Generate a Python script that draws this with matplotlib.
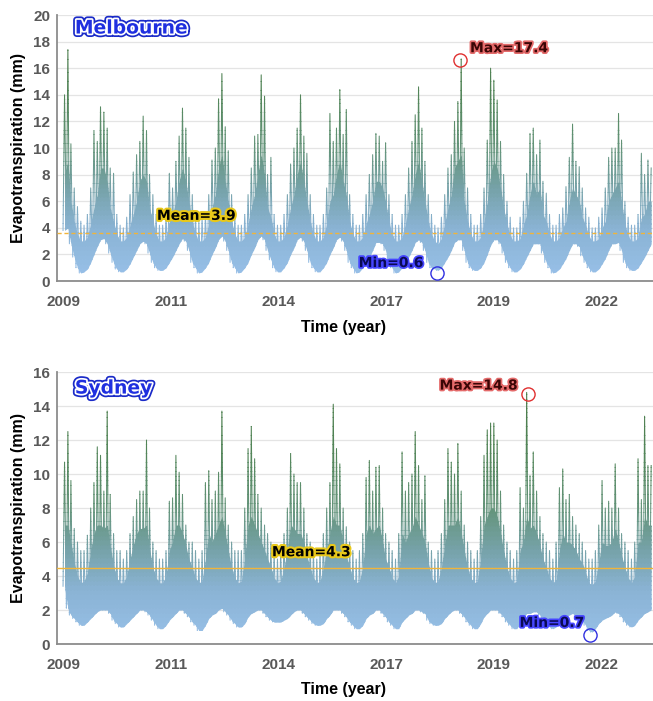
import numpy as np
import matplotlib
matplotlib.use('Agg')
import matplotlib.pyplot as plt
import matplotlib.dates as mdates
import matplotlib.patheffects as pe
from matplotlib.colors import LinearSegmentedColormap
from matplotlib.patches import Rectangle

# monthly envelopes (2009-01 .. 2023-12), one row per year
# high = tallest spike, body = top of the solid band, low = bottom of the band
mel_high = [
    [14.0, 17.4, 10.3, 7.0, 5.6, 4.5, 4.2, 5.0, 7.0, 11.3, 10.5, 13.1],
    [12.7, 11.5, 8.5, 8.1, 5.0, 4.2, 4.0, 4.8, 6.5, 8.2, 9.5, 10.5],
    [12.4, 11.3, 8.0, 6.5, 5.0, 4.2, 4.2, 5.0, 8.1, 7.0, 9.0, 10.9],
    [13.0, 11.5, 9.3, 6.5, 5.0, 4.5, 4.8, 5.0, 6.5, 9.1, 10.0, 13.7],
    [15.6, 11.6, 9.8, 6.5, 5.0, 4.2, 4.2, 5.0, 6.5, 8.5, 10.9, 11.0],
    [15.5, 13.9, 8.0, 9.3, 5.0, 4.2, 4.2, 5.0, 6.5, 8.8, 10.0, 11.5],
    [14.0, 10.9, 9.6, 6.5, 5.0, 4.2, 4.2, 5.0, 7.0, 12.6, 10.5, 11.5],
    [14.4, 11.0, 12.9, 6.5, 5.0, 4.2, 4.2, 5.0, 6.5, 8.0, 9.5, 11.1],
    [10.9, 9.0, 10.4, 6.5, 5.0, 4.2, 4.2, 5.0, 6.5, 8.5, 10.5, 12.5],
    [14.6, 11.5, 9.0, 6.5, 5.0, 4.2, 4.0, 4.8, 6.5, 8.5, 9.5, 12.0],
    [13.5, 16.7, 10.0, 7.0, 5.0, 4.2, 4.2, 5.0, 7.0, 10.6, 16.0, 15.1],
    [13.6, 10.5, 8.0, 6.0, 4.8, 4.0, 4.0, 4.8, 6.0, 8.1, 11.1, 11.5],
    [9.5, 10.6, 7.5, 6.6, 5.0, 4.2, 4.2, 5.0, 5.5, 7.1, 9.3, 11.8],
    [9.0, 8.6, 7.0, 5.5, 4.8, 4.0, 4.0, 4.8, 5.5, 7.0, 9.3, 10.0],
    [10.0, 12.6, 10.6, 6.0, 4.8, 4.2, 4.2, 5.0, 9.6, 8.0, 9.1, 8.5],
]
mel_body = [
    [8.0, 9.0, 6.0, 4.5, 3.5, 3.0, 3.0, 3.3, 4.3, 5.5, 6.5, 8.5],
    [8.5, 7.5, 5.5, 4.5, 3.5, 3.0, 3.0, 3.3, 4.2, 5.0, 6.0, 7.5],
    [8.0, 7.5, 5.5, 4.5, 3.5, 3.0, 3.0, 3.3, 4.5, 5.0, 6.0, 7.5],
    [8.5, 7.5, 6.0, 4.5, 3.5, 3.0, 3.0, 3.3, 4.3, 5.5, 6.5, 8.5],
    [9.5, 7.5, 6.0, 4.5, 3.5, 3.0, 3.0, 3.3, 4.3, 5.5, 6.5, 8.0],
    [9.5, 8.0, 5.5, 4.8, 3.5, 3.0, 3.0, 3.3, 4.3, 5.5, 6.5, 8.0],
    [9.0, 7.5, 6.0, 4.5, 3.5, 3.0, 3.0, 3.3, 4.3, 6.0, 6.5, 8.0],
    [9.0, 7.5, 6.5, 4.5, 3.5, 3.0, 3.0, 3.3, 4.3, 5.0, 6.0, 7.5],
    [7.5, 7.0, 6.0, 4.5, 3.5, 3.0, 3.0, 3.3, 4.3, 5.5, 6.5, 8.0],
    [9.0, 7.5, 6.0, 4.5, 3.5, 3.0, 2.8, 3.2, 4.3, 5.5, 6.5, 8.5],
    [9.0, 9.5, 6.0, 4.5, 3.5, 3.0, 3.0, 3.3, 4.5, 6.0, 8.0, 9.0],
    [8.5, 7.0, 5.5, 4.3, 3.4, 3.0, 3.0, 3.2, 4.2, 5.0, 6.5, 7.5],
    [6.5, 7.0, 5.0, 4.5, 3.5, 3.0, 3.0, 3.3, 4.0, 4.5, 6.0, 7.0],
    [6.5, 6.0, 4.8, 4.2, 3.4, 3.0, 3.0, 3.2, 4.0, 4.5, 6.0, 6.5],
    [7.0, 7.5, 6.0, 4.3, 3.4, 3.0, 3.0, 3.3, 4.8, 5.0, 6.0, 6.0],
]
mel_low = [
    [3.8, 4.0, 2.8, 1.8, 1.0, 0.6, 0.7, 0.9, 1.4, 2.0, 2.6, 3.1],
    [3.2, 2.8, 2.1, 1.4, 0.9, 0.7, 0.7, 0.9, 1.3, 1.8, 2.3, 2.8],
    [3.0, 2.8, 2.1, 1.4, 1.0, 0.8, 0.8, 1.0, 1.4, 1.8, 2.3, 2.8],
    [3.2, 3.0, 2.3, 1.4, 1.0, 0.6, 0.7, 1.0, 1.4, 2.0, 2.5, 3.1],
    [3.4, 3.0, 2.3, 1.4, 1.0, 0.6, 0.7, 1.0, 1.4, 2.0, 2.5, 3.1],
    [3.4, 3.1, 2.3, 1.6, 1.0, 0.7, 0.7, 1.0, 1.4, 2.0, 2.5, 3.1],
    [3.3, 3.0, 2.3, 1.4, 1.0, 0.7, 0.7, 1.0, 1.4, 2.0, 2.5, 3.1],
    [3.3, 3.0, 2.3, 1.4, 1.0, 0.6, 0.7, 1.0, 1.4, 1.8, 2.3, 2.9],
    [2.9, 2.8, 2.3, 1.4, 1.0, 0.6, 0.7, 1.0, 1.4, 1.8, 2.3, 2.9],
    [3.1, 2.9, 2.3, 1.4, 1.0, 0.9, 0.8, 1.0, 1.4, 1.8, 2.3, 2.9],
    [3.1, 3.1, 2.3, 1.4, 1.0, 0.8, 0.8, 1.0, 1.4, 2.0, 2.7, 3.1],
    [3.1, 2.8, 2.1, 1.4, 1.0, 0.7, 0.7, 0.9, 1.3, 1.8, 2.3, 2.8],
    [2.8, 2.8, 2.1, 1.4, 1.0, 0.6, 0.7, 0.9, 1.3, 1.7, 2.3, 2.8],
    [2.8, 2.6, 1.9, 1.4, 1.0, 0.7, 0.7, 0.9, 1.3, 1.7, 2.3, 2.8],
    [2.8, 2.9, 2.3, 1.4, 1.0, 0.8, 0.8, 1.0, 1.4, 1.8, 2.3, 2.8],
]

syd_high = [
    [10.7, 12.5, 9.6, 6.8, 6.0, 5.5, 5.5, 6.4, 8.0, 9.5, 11.6, 11.1],
    [9.0, 13.7, 8.8, 6.5, 5.5, 5.5, 5.0, 5.5, 6.5, 7.5, 8.5, 9.0],
    [9.0, 12.0, 8.0, 6.0, 5.5, 5.0, 5.0, 5.5, 8.4, 8.6, 11.1, 10.1],
    [8.8, 7.0, 6.0, 6.0, 5.5, 5.0, 5.5, 9.5, 10.2, 8.5, 9.0, 10.1],
    [13.7, 8.6, 7.0, 6.0, 5.5, 5.5, 5.5, 8.0, 11.5, 12.8, 10.9, 8.8],
    [8.0, 7.0, 6.5, 6.0, 5.5, 5.0, 5.5, 6.5, 8.0, 11.2, 10.0, 9.5],
    [9.5, 8.0, 6.5, 6.0, 5.5, 5.0, 5.5, 6.5, 8.0, 9.5, 14.1, 11.5],
    [10.6, 8.0, 6.9, 6.0, 5.5, 5.0, 5.5, 6.5, 9.8, 10.8, 9.0, 10.4],
    [10.5, 8.0, 6.5, 6.0, 5.5, 5.0, 6.5, 11.3, 9.0, 9.5, 10.0, 12.5],
    [10.5, 8.5, 9.9, 6.0, 5.5, 5.0, 5.5, 6.5, 8.5, 11.5, 10.7, 10.0],
    [11.8, 9.0, 7.0, 6.0, 5.5, 5.0, 5.5, 7.5, 11.1, 12.6, 13.0, 13.0],
    [12.0, 9.0, 7.0, 6.0, 5.5, 5.0, 5.5, 9.2, 8.0, 14.8, 9.9, 11.3],
    [9.0, 7.5, 6.5, 6.0, 5.5, 5.0, 6.0, 9.2, 10.3, 8.5, 8.8, 7.5],
    [7.0, 6.5, 6.0, 5.5, 5.0, 5.0, 5.5, 7.0, 9.6, 8.0, 8.4, 8.0],
    [10.6, 8.0, 6.5, 6.0, 5.5, 5.0, 6.0, 10.9, 8.5, 13.4, 10.5, 10.5],
]
syd_body = [
    [7.0, 7.0, 6.0, 4.8, 4.0, 3.6, 3.7, 4.2, 5.5, 6.5, 7.0, 7.0],
    [6.8, 7.0, 5.8, 4.6, 3.9, 3.6, 3.6, 4.0, 5.0, 5.8, 6.5, 6.8],
    [6.8, 7.0, 5.6, 4.5, 3.9, 3.6, 3.6, 4.0, 5.5, 6.0, 7.0, 7.0],
    [6.5, 5.8, 5.0, 4.5, 3.9, 3.6, 3.7, 5.0, 6.5, 6.0, 6.5, 7.0],
    [7.5, 6.5, 5.5, 4.5, 3.9, 3.6, 3.7, 5.0, 7.0, 7.5, 7.0, 6.5],
    [6.0, 5.5, 5.0, 4.5, 3.9, 3.6, 3.7, 4.5, 5.5, 7.0, 6.8, 6.5],
    [6.5, 6.0, 5.2, 4.5, 3.9, 3.6, 3.7, 4.5, 5.5, 6.5, 7.5, 7.0],
    [7.0, 6.0, 5.2, 4.5, 3.9, 3.6, 3.7, 4.5, 6.5, 7.0, 6.5, 6.8],
    [7.0, 6.0, 5.0, 4.5, 3.9, 3.6, 4.0, 6.5, 6.0, 6.5, 6.8, 7.5],
    [7.0, 6.5, 6.0, 4.8, 3.9, 3.6, 3.7, 4.5, 5.8, 7.0, 7.0, 7.0],
    [7.5, 6.5, 5.5, 4.5, 3.9, 3.6, 3.7, 5.0, 7.0, 7.5, 8.0, 8.0],
    [7.5, 6.5, 5.5, 4.5, 3.9, 3.6, 3.7, 5.5, 6.0, 7.5, 6.8, 7.0],
    [6.5, 5.8, 5.0, 4.5, 3.9, 3.6, 3.8, 5.5, 6.5, 6.0, 6.0, 5.8],
    [5.5, 5.0, 4.8, 4.2, 3.6, 3.5, 3.7, 4.8, 6.0, 5.8, 5.8, 6.0],
    [6.8, 6.0, 5.2, 4.5, 3.9, 3.6, 4.0, 6.0, 6.0, 7.5, 7.0, 7.0],
]
syd_low = [
    [3.4, 2.1, 1.7, 1.5, 1.3, 1.1, 1.1, 1.3, 1.5, 1.7, 1.9, 2.0],
    [2.0, 2.0, 1.8, 1.4, 1.2, 1.0, 1.0, 1.2, 1.4, 1.6, 1.8, 2.0],
    [2.0, 1.9, 1.7, 1.4, 1.1, 0.9, 0.9, 1.1, 1.4, 1.6, 1.8, 2.0],
    [2.0, 1.8, 1.6, 1.3, 1.1, 0.8, 0.8, 1.1, 1.5, 1.7, 1.8, 2.0],
    [2.1, 1.9, 1.7, 1.4, 1.2, 1.0, 1.0, 1.2, 1.6, 1.8, 1.9, 2.0],
    [2.0, 1.8, 1.6, 1.4, 1.3, 1.3, 1.3, 1.4, 1.5, 1.7, 1.9, 2.0],
    [2.0, 1.8, 1.6, 1.4, 1.2, 1.1, 1.1, 1.2, 1.5, 1.7, 2.0, 2.0],
    [2.0, 1.8, 1.6, 1.3, 1.1, 0.9, 0.9, 1.1, 1.5, 1.7, 1.8, 2.0],
    [2.0, 1.8, 1.6, 1.3, 1.1, 0.9, 0.9, 1.3, 1.5, 1.7, 1.8, 2.0],
    [2.0, 1.9, 1.8, 1.4, 1.2, 1.1, 1.1, 1.2, 1.5, 1.7, 1.9, 2.0],
    [2.0, 1.8, 1.6, 1.3, 1.1, 0.9, 0.9, 1.2, 1.6, 1.8, 2.0, 2.0],
    [2.0, 1.8, 1.6, 1.3, 1.1, 0.9, 0.9, 1.2, 1.5, 1.8, 1.8, 1.9],
    [1.9, 1.7, 1.5, 1.2, 1.0, 0.9, 1.0, 1.3, 1.5, 1.6, 1.7, 1.8],
    [1.7, 1.6, 1.4, 1.1, 0.8, 0.7, 0.9, 1.2, 1.4, 1.5, 1.6, 1.7],
    [1.9, 1.8, 1.6, 1.3, 1.1, 1.0, 1.1, 1.4, 1.6, 1.8, 1.9, 2.0],
]

tick_dates = ['2009-01-01', '2011-09-28', '2014-06-24', '2017-03-20', '2019-12-15', '2022-09-10']
tick_labels = ['2009', '2011', '2014', '2017', '2019', '2022']

mel_mean, mel_mean_line = 3.9, 3.6
mel_max, mel_max_at = 17.4, ('2019-02-04', 16.6)
mel_min, mel_min_at = 0.6, ('2018-07-06', 0.6)
syd_mean, syd_mean_line = 4.3, 4.45
syd_max, syd_max_at = 14.8, ('2020-10-28', 14.7)
syd_min, syd_min_at = 0.7, ('2022-05-26', 0.53)

months = np.arange('2009-01', '2024-01', dtype='datetime64[M]')
x_start = mdates.date2num(months.astype('datetime64[D]'))
x_mid = x_start + 14
t0 = mdates.date2num(np.datetime64('2009-01-01'))
t1 = mdates.date2num(np.datetime64('2024-01-01'))

cmap = LinearSegmentedColormap.from_list(
    'et', [(0.0, '#99c1ea'), (0.2, '#8ab3d4'), (0.35, '#76a2a8'),
           (0.5, '#64947a'), (0.7, '#53865a'), (1.0, '#437640')])

def d(s):
    return mdates.date2num(np.datetime64(s))

def draw(ax, high, body, low, ytop, mean_line, dashed):
    high = np.ravel(high)
    body = np.ravel(body)
    low = np.ravel(low)
    xs = np.empty(2 * len(high))
    ys = np.empty(2 * len(high))
    xs[0::2], xs[1::2] = x_start, x_mid
    ys[0::2], ys[1::2] = low, high
    nb = 60
    h = ytop / nb
    for i in range(nb):
        c = cmap((i + 0.5) / nb)
        rect = Rectangle((t0 - 200, i * h - 0.02), t1 - t0 + 400, h + 0.04,
                         transform=ax.transData)
        f = ax.fill_between(x_mid, low, body, color=c, lw=0)
        f.set_clip_path(rect)
        ln, = ax.plot(xs, ys, color=c, lw=0.75)
        ln.set_clip_path(rect)
    ls = (0, (3, 2)) if dashed else '-'
    ax.axhline(mean_line, color='#f0b43a', lw=1.0, ls=ls, zorder=3)

    ax.set_xlim(t0 - 56, t1)
    ax.set_ylim(0, ytop)
    ax.set_yticks(np.arange(0, ytop + 1, 2))
    ax.set_xticks([d(s) for s in tick_dates])
    ax.set_xticklabels(tick_labels)
    ax.yaxis.grid(True, color='#e4e4e4', lw=0.9)
    ax.set_axisbelow(True)
    for s in ['top', 'right']:
        ax.spines[s].set_visible(False)
    for s in ['left', 'bottom']:
        ax.spines[s].set_color('#8c8c8c')
        ax.spines[s].set_linewidth(1.3)
    ax.tick_params(axis='y', length=0, pad=5, labelsize=11, labelcolor='#595959')
    ax.tick_params(axis='x', length=0, pad=10, labelsize=11, labelcolor='#595959')
    for lab in ax.get_xticklabels() + ax.get_yticklabels():
        lab.set_fontweight('bold')
        lab.set_family(['Liberation Sans', 'DejaVu Sans'])
    ax.set_ylabel('Evapotranspiration (mm)', fontsize=11.5, fontweight='bold',
                  family=['Liberation Sans', 'DejaVu Sans'])
    ax.set_xlabel('Time (year)', fontsize=11.5, fontweight='bold',
                  family=['Liberation Sans', 'DejaVu Sans'])
    ax.yaxis.set_label_coords(-0.052, 0.5)

def title(ax, text, y):
    ax.text(0.03, y, text, transform=ax.transAxes, fontsize=13.5, fontweight='bold',
            color='#1f2fe0', va='center', ha='left', zorder=6,
            path_effects=[pe.Stroke(linewidth=5, foreground='#1a2ac8'),
                          pe.Stroke(linewidth=2.5, foreground='white'), pe.Normal()])

def label(ax, x, y, text, fg, edge, ha, lw=2.5):
    ax.text(d(x), y, text, fontsize=10, fontweight='bold', color=fg, ha=ha,
            va='center', zorder=6,
            path_effects=[pe.Stroke(linewidth=lw, foreground=edge), pe.Normal()])

def ring(ax, at, color):
    ax.plot(d(at[0]), at[1], 'o', ms=9.5, mfc='none', mec=color, mew=1.0,
            zorder=6, clip_on=False)

fig = plt.figure(figsize=(6.53, 7.01), dpi=100)
ax1 = fig.add_axes([0.0873, 0.5991, 0.9127, 0.3795])
ax2 = fig.add_axes([0.0873, 0.0813, 0.9127, 0.388])

draw(ax1, mel_high, mel_body, mel_low, 20, mel_mean_line, True)
draw(ax2, syd_high, syd_body, syd_low, 16, syd_mean_line, False)
ax1.xaxis.set_label_coords(0.48, -0.145)
ax2.xaxis.set_label_coords(0.48, -0.14)

title(ax1, 'Melbourne', 0.951)
title(ax2, 'Sydney', 0.941)

label(ax1, '2011-05-23', 4.9, f'Mean={mel_mean}', 'black', '#e8c81a', 'left', 3)
label(ax1, '2019-05-08', 17.5, f'Max={mel_max}', '#3a0505', '#e46a6a', 'left')
label(ax1, '2018-02-26', 1.35, f'Min={mel_min}', '#0a0a55', '#4646ff', 'right')
ring(ax1, mel_max_at, '#e03030')
ring(ax1, mel_min_at, '#3030e0')

label(ax2, '2014-04-25', 5.4, f'Mean={syd_mean}', 'black', '#e8c81a', 'left', 3)
label(ax2, '2020-07-26', 15.2, f'Max={syd_max}', '#3a0505', '#e46a6a', 'right')
label(ax2, '2022-03-31', 1.24, f'Min={syd_min}', '#0a0a55', '#4646ff', 'right')
ring(ax2, syd_max_at, '#e03030')
ring(ax2, syd_min_at, '#3030e0')

fig.savefig('out.png', dpi=100)
